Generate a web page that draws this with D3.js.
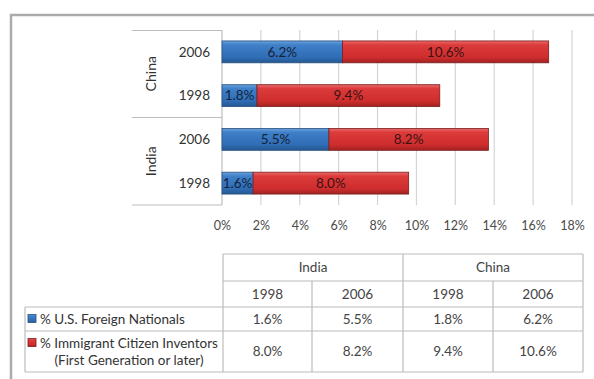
<!DOCTYPE html>
<html>
<head>
<meta charset="utf-8">
<script src="https://cdn.jsdelivr.net/npm/d3@7"></script>
<style>
  html, body { margin: 0; padding: 0; background: #fff; }
  svg { display: block; font-family: Lato, "Open Sans", sans-serif; }
</style>
</head>
<body>
<svg id="chart" width="594" height="379"></svg>
<script>
// Share of U.S. inventors, by country of origin and year
const countries = ["India", "China"];
const years = ["1998", "2006"];
const foreignNationals = [1.6, 5.5, 1.8, 6.2];   // India 1998, India 2006, China 1998, China 2006
const immigrantCitizens = [8.0, 8.2, 9.4, 10.6]; // same order
const seriesNames = ["% U.S. Foreign Nationals", "% Immigrant Citizen Inventors"];
const seriesSubtitle = "(First Generation or later)";
const xTicks = [0, 2, 4, 6, 8, 10, 12, 14, 16, 18];

const rows = [];
countries.forEach((c, ci) => years.forEach((y, yi) => {
  const i = ci * years.length + yi;
  rows.push({ country: c, year: y, key: c + " " + y, fn: foreignNationals[i], ic: immigrantCitizens[i] });
}));
// bars run top-down: China 2006, China 1998, India 2006, India 1998
const barRows = rows.slice().reverse();

const svg = d3.select("#chart");
const fmt = v => d3.format(".1f")(v) + "%";

// outer frame
svg.append("path")
  .attr("d", "M11,379V15H594")
  .attr("fill", "none").attr("stroke", "#ababab").attr("stroke-width", 2.5);

// gradients for the bevelled bars
const defs = svg.append("defs");
function grad(id, stops) {
  const g = defs.append("linearGradient").attr("id", id)
    .attr("x1", 0).attr("y1", 0).attr("x2", 0).attr("y2", 1);
  stops.forEach(([o, c]) => g.append("stop").attr("offset", o).attr("stop-color", c));
}
grad("gBlue", [[0, "#6aa1dc"], [0.18, "#3f80c8"], [0.75, "#2f6db5"], [1, "#25578f"]]);
grad("gRed", [[0, "#ea6a6a"], [0.18, "#dc3b3b"], [0.75, "#cf2d2d"], [1, "#a12222"]]);

const x = d3.scaleLinear().domain([0, 18]).range([222, 572]);
const y = d3.scaleBand().domain(barRows.map(d => d.key)).range([30, 205])
  .paddingInner(0.5).paddingOuter(0.25);

// vertical gridlines
svg.append("g").selectAll("line").data(xTicks.slice(1)).join("line")
  .attr("x1", d => x(d)).attr("x2", d => x(d))
  .attr("y1", 30).attr("y2", 205)
  .attr("stroke", "#d4d4d4").attr("stroke-width", 1.2);

// x axis labels
const xAxis = svg.append("g").attr("transform", "translate(0,221)")
  .call(d3.axisBottom(x).tickValues(xTicks).tickFormat(d => d + "%").tickSize(0).tickPadding(0));
xAxis.select(".domain").remove();
xAxis.selectAll("text").attr("font-size", 12.5).attr("fill", "#4a4a4a")
  .attr("font-family", "Lato, sans-serif");

// category box
const cat = svg.append("g").attr("stroke", "#bdbdbd").attr("stroke-width", 1.2);
cat.append("line").attr("x1", 132).attr("x2", 222).attr("y1", 30.5).attr("y2", 30.5);
cat.append("line").attr("x1", 132).attr("x2", 222).attr("y1", 117.5).attr("y2", 117.5);
cat.append("line").attr("x1", 132).attr("x2", 222).attr("y1", 205).attr("y2", 205);
cat.append("line").attr("x1", 222).attr("x2", 222).attr("y1", 30).attr("y2", 205);

// year labels
svg.append("g").selectAll("text").data(barRows).join("text")
  .attr("x", 210).attr("y", d => y(d.key) + y.bandwidth() / 2)
  .attr("dy", "0.36em").attr("text-anchor", "end")
  .attr("font-size", 13.5).attr("fill", "#333").text(d => d.year);

// country labels, rotated
const groupOrder = countries.slice().reverse();
svg.append("g").selectAll("text").data(groupOrder).join("text")
  .attr("transform", (c, i) => {
    const top = i === 0 ? 30 : 117.5, bot = i === 0 ? 117.5 : 205;
    return `translate(151,${(top + bot) / 2}) rotate(-90)`;
  })
  .attr("text-anchor", "middle").attr("dy", "0.36em")
  .attr("font-size", 14).attr("fill", "#333").text(c => c);

// stacked bars
const bars = svg.append("g");
bars.selectAll("rect.fn").data(barRows).join("rect").attr("class", "fn")
  .attr("x", x(0)).attr("y", d => y(d.key))
  .attr("width", d => x(d.fn) - x(0)).attr("height", y.bandwidth())
  .attr("fill", "url(#gBlue)").attr("stroke", "#28507e").attr("stroke-width", 0.8);
bars.selectAll("rect.ic").data(barRows).join("rect").attr("class", "ic")
  .attr("x", d => x(d.fn)).attr("y", d => y(d.key))
  .attr("width", d => x(d.fn + d.ic) - x(d.fn)).attr("height", y.bandwidth())
  .attr("fill", "url(#gRed)").attr("stroke", "#7a1d1d").attr("stroke-width", 0.8);

// value labels inside bars
const lab = svg.append("g").attr("font-size", 13.5).attr("text-anchor", "middle");
lab.selectAll("text.fn").data(barRows).join("text").attr("class", "fn")
  .attr("x", d => (x(0) + x(d.fn)) / 2).attr("y", d => y(d.key) + y.bandwidth() / 2)
  .attr("dy", "0.36em").attr("fill", "#14223a").text(d => fmt(d.fn));
lab.selectAll("text.ic").data(barRows).join("text").attr("class", "ic")
  .attr("x", d => (x(d.fn) + x(d.fn + d.ic)) / 2).attr("y", d => y(d.key) + y.bandwidth() / 2)
  .attr("dy", "0.36em").attr("fill", "#3a1212").text(d => fmt(d.ic));

// data table
const colX = [223, 312, 403, 493, 583];
const rowY = [254, 281, 307, 331, 372];
const labelLeft = 25;
const tbl = svg.append("g").attr("stroke", "#bcbcbc").attr("stroke-width", 1.2).attr("fill", "none");
// horizontal rules
tbl.append("line").attr("x1", colX[0]).attr("x2", colX[4]).attr("y1", rowY[0]).attr("y2", rowY[0]);
tbl.append("line").attr("x1", colX[0]).attr("x2", colX[4]).attr("y1", rowY[1]).attr("y2", rowY[1]);
[rowY[2], rowY[3], rowY[4]].forEach(v =>
  tbl.append("line").attr("x1", labelLeft).attr("x2", colX[4]).attr("y1", v).attr("y2", v));
// vertical rules
tbl.append("line").attr("x1", labelLeft).attr("x2", labelLeft).attr("y1", rowY[2]).attr("y2", rowY[4]);
[colX[0], colX[2], colX[4]].forEach(v =>
  tbl.append("line").attr("x1", v).attr("x2", v).attr("y1", rowY[0]).attr("y2", rowY[4]));
[colX[1], colX[3]].forEach(v =>
  tbl.append("line").attr("x1", v).attr("x2", v).attr("y1", rowY[1]).attr("y2", rowY[4]));

const txt = svg.append("g").attr("font-size", 13.5).attr("fill", "#333");
countries.forEach((c, ci) => {
  txt.append("text").attr("x", (colX[ci * 2] + colX[ci * 2 + 2]) / 2)
    .attr("y", (rowY[0] + rowY[1]) / 2).attr("dy", "0.36em")
    .attr("text-anchor", "middle").attr("fill", "#444").attr("font-size", 13.5).text(c);
});
rows.forEach((r, i) => {
  const cx = (colX[i] + colX[i + 1]) / 2;
  txt.append("text").attr("x", cx).attr("y", (rowY[1] + rowY[2]) / 2).attr("dy", "0.36em")
    .attr("text-anchor", "middle").attr("fill", "#444").text(r.year);
  txt.append("text").attr("x", cx).attr("y", (rowY[2] + rowY[3]) / 2).attr("dy", "0.36em")
    .attr("text-anchor", "middle").attr("fill", "#444").text(fmt(r.fn));
  txt.append("text").attr("x", cx).attr("y", (rowY[3] + rowY[4]) / 2).attr("dy", "0.36em")
    .attr("text-anchor", "middle").attr("fill", "#444").text(fmt(r.ic));
});

// legend keys and series names
const keyFill = ["url(#gBlue)", "url(#gRed)"];
const keyStroke = ["#28507e", "#7a1d1d"];
const y1 = (rowY[2] + rowY[3]) / 2;
svg.append("rect").attr("x", 28).attr("y", y1 - 4.5).attr("width", 8).attr("height", 8)
  .attr("fill", keyFill[0]).attr("stroke", keyStroke[0]).attr("stroke-width", 0.8);
txt.append("text").attr("x", 40).attr("y", y1).attr("dy", "0.36em").text(seriesNames[0]);

const y2 = 343;
svg.append("rect").attr("x", 28).attr("y", y2 - 4.5).attr("width", 8).attr("height", 8)
  .attr("fill", keyFill[1]).attr("stroke", keyStroke[1]).attr("stroke-width", 0.8);
txt.append("text").attr("x", 40).attr("y", y2).attr("dy", "0.36em").text(seriesNames[1]);
txt.append("text").attr("x", 129).attr("y", 360).attr("dy", "0.36em")
  .attr("text-anchor", "middle").text(seriesSubtitle);
</script>
</body>
</html>
